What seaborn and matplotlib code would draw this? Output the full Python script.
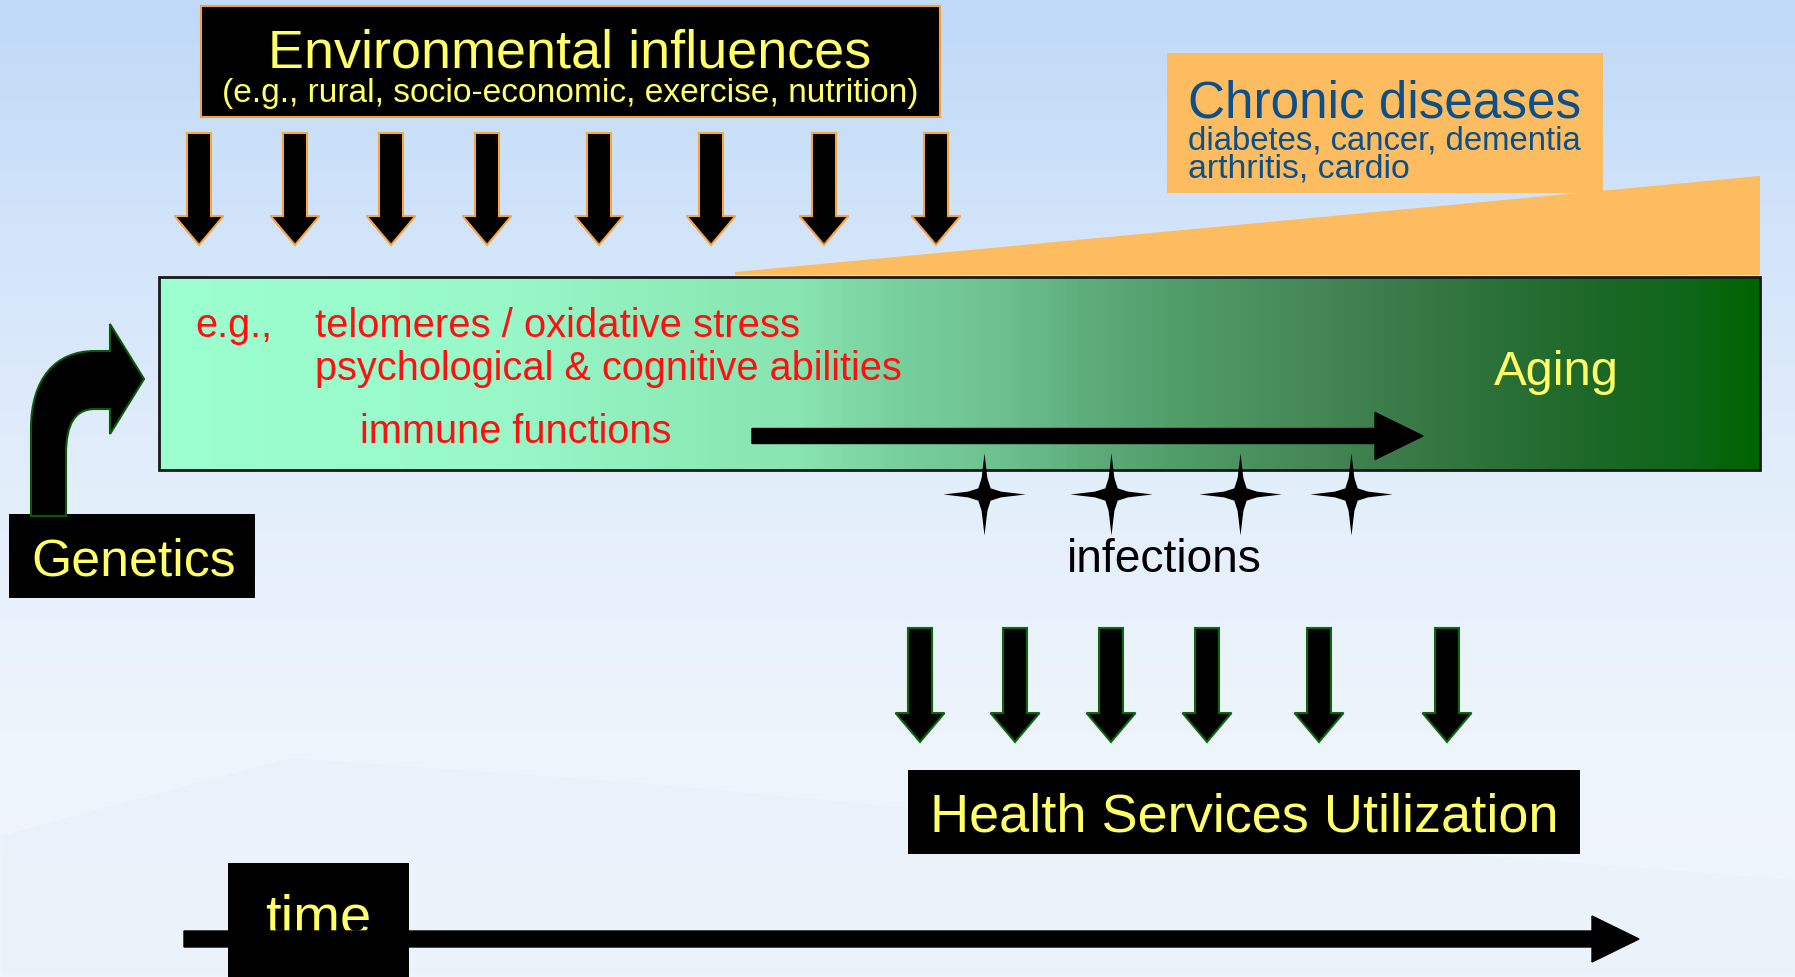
import matplotlib
import matplotlib.pyplot as plt
import matplotlib.patches as mpatches
from matplotlib.colors import LinearSegmentedColormap
from matplotlib.path import Path
import seaborn as sns
import numpy as np

sns.set_theme(style="white")
plt.rcParams["font.family"] = ["Liberation Sans", "DejaVu Sans"]

W, H = 1795, 978

# labels
ENV_TITLE = "Environmental influences"
ENV_SUB = "(e.g., rural, socio-economic, exercise, nutrition)"
CHRONIC_TITLE = "Chronic diseases"
CHRONIC_LINES = ["diabetes, cancer, dementia", "arthritis, cardio"]
FACTOR_LINES = ["telomeres / oxidative stress", "psychological & cognitive abilities", "immune functions"]
EG_LABEL = "e.g.,"
AGING_LABEL = "Aging"
INFECTION_LABEL = "infections"
GENETICS_LABEL = "Genetics"
HEALTH_LABEL = "Health Services Utilization"
TIME_LABEL = "time"

# positions of repeated marks (pixel columns)
ENV_ARROW_X = [199, 295, 391, 487, 599, 711, 824, 936]
HEALTH_ARROW_X = [920, 1015, 1111, 1207, 1319, 1447]
INFECTION_X = [984, 1111, 1240, 1351]

SKY_COLORS = ["#bfd9f7", "#d3e5fa", "#e3eefb", "#eef4fc", "#f1f6fc"]
# gradient stops along the aging bar (fraction of width, colour)
AGING_STOPS = [0.0, 0.21, 0.40, 0.46, 0.53, 0.59, 0.65, 0.72, 0.78, 0.84, 0.90, 0.96, 1.0]
AGING_COLORS = ["#9cffd0", "#98f8c8", "#88e4b0", "#78d09e", "#6cc08e", "#5baa78",
                "#4e9a66", "#468858", "#3a7a48", "#2a7038", "#1c6828", "#0e6618", "#006400"]

YELLOW = "#ffff66"
RED = "#ff1010"
NAVY = "#0b4f8b"
ORANGE = "#fdbc5f"


def put_text(ax, x, y, s, width, ha="left", **kw):
    t = ax.text(x, y, s, ha=ha, va="baseline", fontsize=20, **kw)
    bb = t.get_window_extent(ax.figure.canvas.get_renderer())
    t.set_fontsize(20 * width / bb.width)
    return t


def down_arrow(ax, x, top, tip, edge):
    ax.add_patch(mpatches.FancyArrow(
        x, top, 0, tip - top, width=24, head_width=49, head_length=29,
        length_includes_head=True, facecolor="black", edgecolor=edge,
        linewidth=1.5, zorder=5))


fig = plt.figure(figsize=(W / 100, H / 100), dpi=100)
ax = fig.add_axes([0, 0, 1, 1])
ax.set_xlim(0, W)
ax.set_ylim(H, 0)
ax.axis("off")

# sky background with a faint mountain
sky = sns.blend_palette(SKY_COLORS, as_cmap=True)
ax.imshow(np.linspace(0, 1, 200)[:, None], cmap=sky, aspect="auto",
          extent=[0, W, H, 0], zorder=0)
ax.add_patch(mpatches.Polygon([(0, 836), (290, 758), (630, 782), (1150, 830), (1795, 880),
                               (1795, 978), (0, 978)], closed=True,
                              facecolor="#e6eef8", edgecolor="#f4f8fd", linewidth=2,
                              alpha=0.35, zorder=1))

# environmental box + arrows
ax.add_patch(mpatches.Rectangle((201, 7), 739, 111, facecolor="black",
                                edgecolor="#f5a040", linewidth=1.5, zorder=3))
put_text(ax, 570, 68, ENV_TITLE, 603, ha="center", color=YELLOW, zorder=4)
put_text(ax, 570, 102, ENV_SUB, 695, ha="center", color=YELLOW, zorder=4)
for x in ENV_ARROW_X:
    down_arrow(ax, x, 134, 246, "#f7a541")

# chronic diseases wedge + box
ax.add_patch(mpatches.Polygon([(735, 273), (1760, 177), (1760, 276), (735, 276)],
                              closed=True, facecolor=ORANGE, edgecolor="none", zorder=2))
ax.add_patch(mpatches.Rectangle((1167, 54), 436, 140, facecolor=ORANGE,
                                edgecolor="none", zorder=2))
put_text(ax, 1188, 117, CHRONIC_TITLE, 392, color=NAVY, zorder=4)
put_text(ax, 1188, 150, CHRONIC_LINES[0], 392, color=NAVY, zorder=4)
put_text(ax, 1188, 177, CHRONIC_LINES[1], 222, color=NAVY, zorder=4)

# aging box with gradient
aging = LinearSegmentedColormap.from_list("aging", list(zip(AGING_STOPS, AGING_COLORS)))
ax.imshow(np.linspace(0, 1, 600)[None, :], cmap=aging, aspect="auto",
          extent=[159, 1760, 471, 278], zorder=2)
ax.add_patch(mpatches.Rectangle((159, 278), 1601, 193, facecolor="none",
                                edgecolor="#1a1a1a", linewidth=2, zorder=3))
put_text(ax, 195, 337, EG_LABEL, 77, color=RED, zorder=4)
put_text(ax, 315, 337, FACTOR_LINES[0], 484, color=RED, zorder=4)
put_text(ax, 315, 380, FACTOR_LINES[1], 587, color=RED, zorder=4)
put_text(ax, 360, 443, FACTOR_LINES[2], 311, color=RED, zorder=4)
put_text(ax, 1494, 385, AGING_LABEL, 125, color=YELLOW, zorder=4)
ax.add_patch(mpatches.FancyArrow(752, 437, 671, 0, width=15, head_width=47,
                                 head_length=48, length_includes_head=True,
                                 color="black", zorder=5))

# infections
pts = [(0, 1), (0.07, 0.4), (0.15, 0.15), (0.4, 0.07), (1, 0), (0.4, -0.07),
       (0.15, -0.15), (0.07, -0.4), (0, -1), (-0.07, -0.4), (-0.15, -0.15),
       (-0.4, -0.07), (-1, 0), (-0.4, 0.07), (-0.15, 0.15), (-0.07, 0.4), (0, 1)]
star = Path(pts, [Path.MOVETO] + [Path.LINETO] * (len(pts) - 2) + [Path.CLOSEPOLY])
sns.scatterplot(x=INFECTION_X, y=[495] * len(INFECTION_X), marker=star, s=3500,
                color="black", linewidth=0, ax=ax, zorder=6, legend=False)
put_text(ax, 1067, 572, INFECTION_LABEL, 194, color="black", zorder=4)

# genetics
ax.add_patch(mpatches.Rectangle((9, 515), 246, 84, facecolor="black",
                                edgecolor="none", zorder=3))
put_text(ax, 31, 576, GENETICS_LABEL, 204, color=YELLOW, zorder=4)
bend = Path(
    [(31, 517), (31, 430), (31, 380), (55, 352), (95, 352), (110, 352),
     (110, 325), (144, 380), (110, 435), (110, 410), (95, 410),
     (75, 410), (66, 425), (66, 455), (66, 517), (31, 517)],
    [Path.MOVETO, Path.LINETO, Path.CURVE4, Path.CURVE4, Path.CURVE4, Path.LINETO,
     Path.LINETO, Path.LINETO, Path.LINETO, Path.LINETO, Path.LINETO,
     Path.CURVE4, Path.CURVE4, Path.CURVE4, Path.LINETO, Path.CLOSEPOLY])
ax.add_patch(mpatches.PathPatch(bend, facecolor="black", edgecolor="#0a5a0a",
                                linewidth=1.5, zorder=4))

# health services
for x in HEALTH_ARROW_X:
    down_arrow(ax, x, 629, 743, "#0a6a0a")
ax.add_patch(mpatches.Rectangle((908, 771), 672, 84, facecolor="black",
                                edgecolor="none", zorder=3))
put_text(ax, 1244, 832, HEALTH_LABEL, 628, ha="center", color=YELLOW, zorder=4)

# time axis
ax.add_patch(mpatches.Rectangle((228, 864), 181, 120, facecolor="black",
                                edgecolor="none", zorder=3))
put_text(ax, 318, 934, TIME_LABEL, 106, ha="center", color=YELLOW, zorder=4)
ax.add_patch(mpatches.FancyArrow(184, 940, 1455, 0, width=16, head_width=46,
                                 head_length=47, length_includes_head=True,
                                 color="black", zorder=5))

fig.savefig("out.png", dpi=100)
